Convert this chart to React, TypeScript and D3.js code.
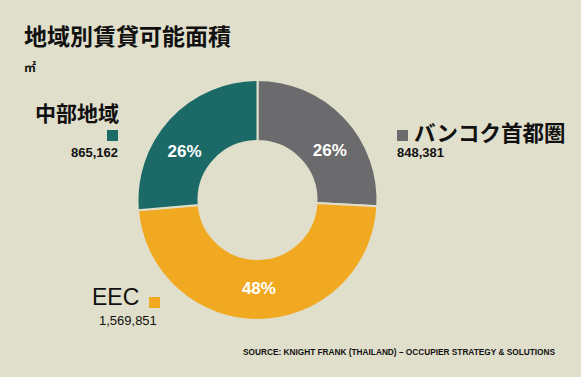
import React from "react";
import * as d3 from "d3";

const categories = ["バンコク首都圏", "EEC", "中部地域"];
const values = [848381, 1569851, 865162];
const valueLabels = ["848,381", "1,569,851", "865,162"];
const percentLabels = ["26%", "48%", "26%"];
const colors = ["#6b6a6c", "#f2a922", "#1b6a67"];

const W = 581;
const H = 377;
const BG = "#e0dfcb";

export default function App() {
  const cx = 257.5;
  const cy = 200;
  const outerR = 120;
  const innerR = 59;
  const pie = d3.pie<number>().sort(null).startAngle(0).endAngle(2 * Math.PI);
  const arcs = pie(values);
  const arc = d3.arc<d3.PieArcDatum<number>>().innerRadius(innerR).outerRadius(outerR);
  const labelPos = (a: d3.PieArcDatum<number>) => {
    let mid = (a.startAngle + a.endAngle) / 2;
    if (Math.cos(mid) > 0) {
      const h = Math.sin(mid) >= 0 ? Math.PI / 2 : (3 * Math.PI) / 2;
      mid = mid + 0.2 * (h - mid);
    }
    const r = 88;
    return [Math.sin(mid) * r, -Math.cos(mid) * r];
  };
  const cjk = "'Noto Sans CJK JP', 'Noto Sans', sans-serif";
  const sans = "'Liberation Sans', Arial, sans-serif";
  return (
    <svg width={W} height={H} style={{ position: "absolute", left: 0, top: 0, background: BG }}>
      <rect x={0} y={0} width={W} height={H} fill={BG} />
      <text x={24} y={45} fontFamily={cjk} fontWeight={700} fontSize={23} fill="#111">
        地域別賃貸可能面積
      </text>
      <text x={24} y={72} fontFamily={cjk} fontWeight={700} fontSize={12} fill="#111">
        ㎡
      </text>
      <g transform={`translate(${cx},${cy})`}>
        {arcs.map((a, i) => (
          <path key={i} d={arc(a) || ""} fill={colors[i]} stroke={BG} strokeWidth={2} />
        ))}
        {arcs.map((a, i) => {
          const [lx, ly] = labelPos(a);
          return (
            <text
              key={"l" + i}
              x={lx}
              y={ly}
              dy="0.36em"
              textAnchor="middle"
              fontFamily={sans}
              fontWeight={700}
              fontSize={17}
              fill="#fff"
            >
              {percentLabels[i]}
            </text>
          );
        })}
      </g>
      {/* 中部地域 legend */}
      <text x={119} y={121} textAnchor="end" fontFamily={cjk} fontWeight={700} fontSize={21} fill="#111">
        {categories[2]}
      </text>
      <rect x={107} y={130} width={11} height={11} fill={colors[2]} />
      <text x={118} y={157} textAnchor="end" fontFamily={sans} fontWeight={700} fontSize={13} fill="#111">
        {valueLabels[2]}
      </text>
      {/* バンコク首都圏 legend */}
      <rect x={397} y={130} width={11} height={11} fill={colors[0]} />
      <text x={414} y={141} fontFamily={cjk} fontWeight={700} fontSize={21.5} fill="#111">
        {categories[0]}
      </text>
      <text x={397} y={157} fontFamily={sans} fontWeight={700} fontSize={13} fill="#111">
        {valueLabels[0]}
      </text>
      {/* EEC legend */}
      <text x={92} y={305} fontFamily={sans} fontWeight={400} fontSize={23} fill="#111">
        {categories[1]}
      </text>
      <rect x={149} y={297} width={11} height={11} fill={colors[1]} />
      <text x={99} y={325} fontFamily={sans} fontWeight={400} fontSize={13} fill="#111">
        {valueLabels[1]}
      </text>
      <text x={243} y={355} fontFamily={sans} fontWeight={700} fontSize={9} textLength={312} lengthAdjust="spacingAndGlyphs" fill="#111">
        SOURCE: KNIGHT FRANK (THAILAND) – OCCUPIER STRATEGY &amp; SOLUTIONS
      </text>
    </svg>
  );
}
